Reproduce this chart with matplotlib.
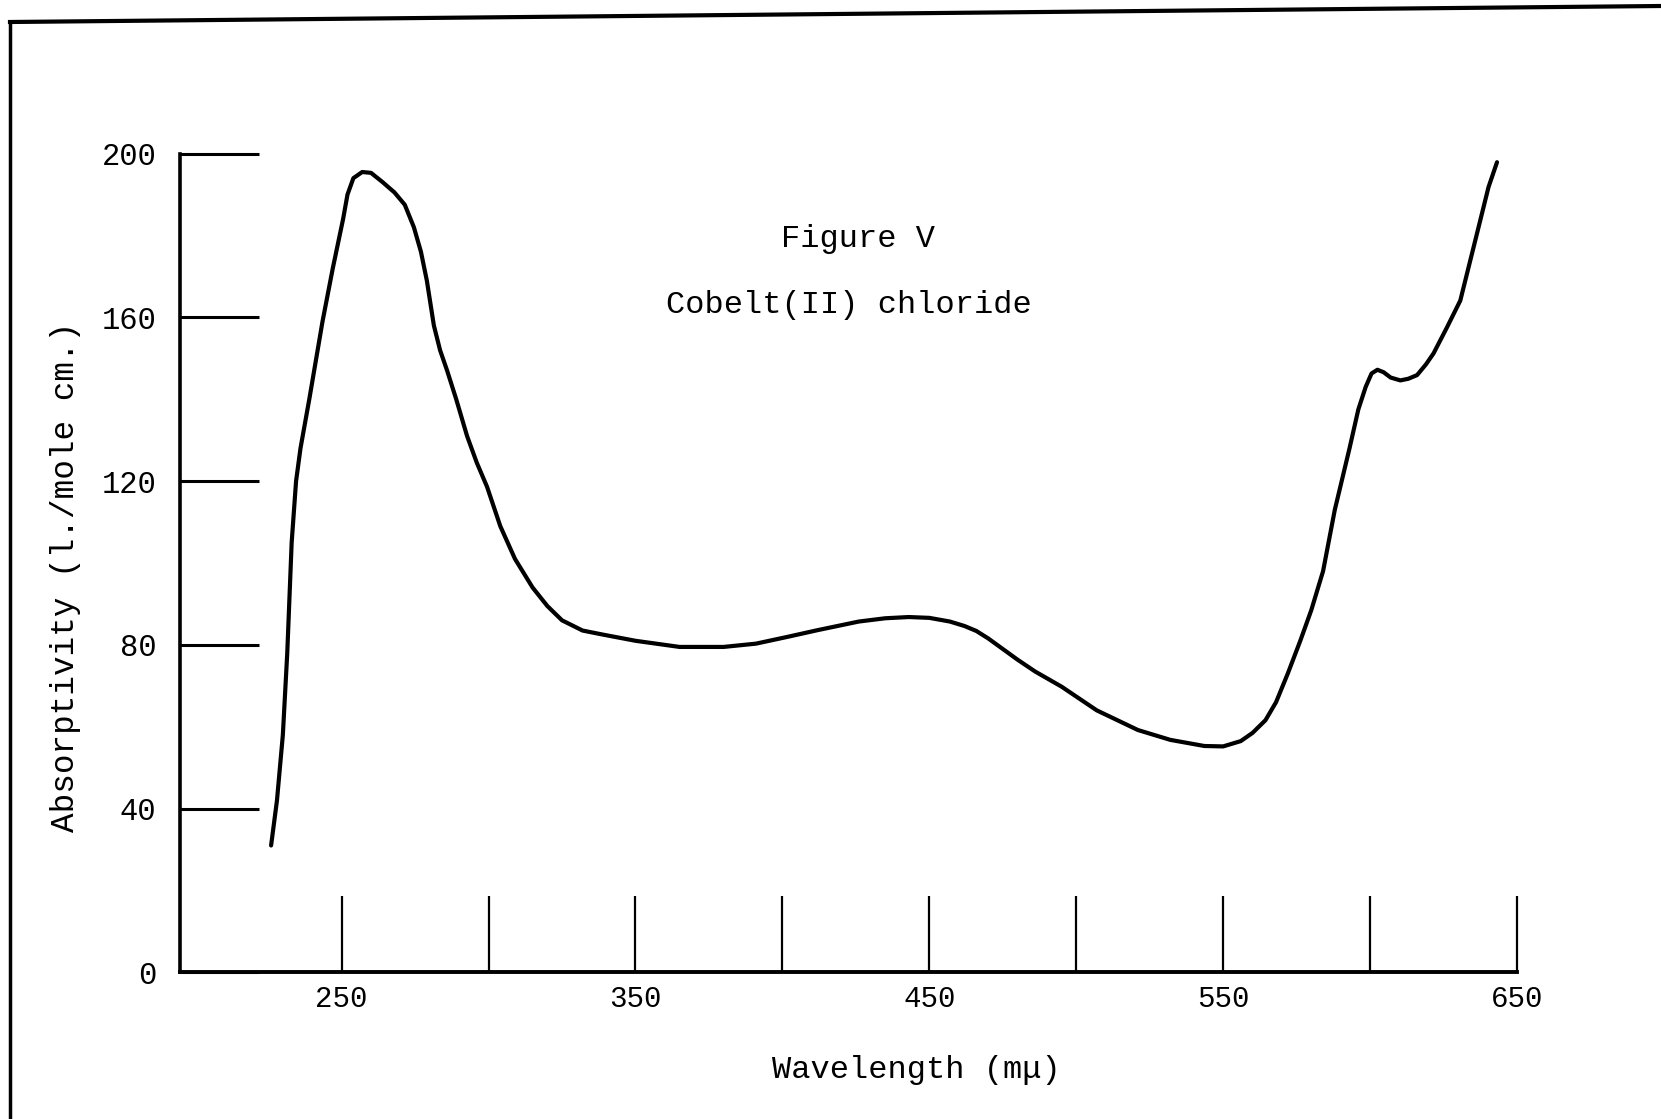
import matplotlib.pyplot as plt
from matplotlib.lines import Line2D

# absorption spectrum
wavelength = [226, 228, 230, 231.5, 233, 234.5, 236, 239, 243.5, 247, 250.5, 252, 254, 257, 260,
              264, 268, 271.5, 274.6, 277, 279, 281.4, 283.5, 285.9, 289, 292.7, 296, 299.5, 304,
              309, 315, 320, 325, 332, 339, 350, 365, 380, 391, 402, 412, 426, 435, 443, 450, 457,
              462, 466, 470, 475, 480, 486, 495, 507, 521, 532, 543.6, 550, 556, 560, 564.4, 568,
              572, 576.3, 580, 584, 588, 593, 596, 598.5, 600.5, 602.5, 604.6, 607, 610.3, 613,
              616, 619, 621.6, 626.2, 630.7, 634.1, 637.5, 640.3, 643.2]
absorptivity = [31, 42, 58, 78, 105, 120, 128, 140, 159, 172, 184, 190, 194, 195.5, 195.3,
                193, 190.5, 187.5, 182, 176, 169, 158, 152, 147, 140, 131, 124.5, 118.6, 109,
                101, 94, 89.5, 86, 83.5, 82.5, 81, 79.5, 79.5, 80.3, 82, 83.6, 85.7, 86.5, 86.8,
                86.6, 85.7, 84.6, 83.4, 81.6, 79, 76.4, 73.5, 69.8, 64, 59.2, 56.8, 55.3, 55.2,
                56.5, 58.5, 61.6, 66, 73, 81.1, 88.5, 98, 113, 128, 137.5, 143, 146.3, 147.2,
                146.6, 145.3, 144.6, 145, 145.9, 148.5, 151.2, 157.6, 164.1, 173.9, 183.7,
                191.8, 197.9]

xticks = [250, 300, 350, 400, 450, 500, 550, 600, 650]
xlabels = ["250", "", "350", "", "450", "", "550", "", "650"]
yticks = [0, 40, 80, 120, 160, 200]

W, H = 1661, 1119
fig = plt.figure(figsize=(W / 100, H / 100), dpi=100)
font = "Liberation Mono"

# page frame (scanned sheet edges)
fig.add_artist(Line2D([10 / W, 10 / W], [0, 1 - 22 / H], color="black", lw=2.5))
fig.add_artist(Line2D([10 / W, 1], [1 - 22 / H, 1 - 6 / H], color="black", lw=3))

x0, x1 = 180, 1517
ytop, ybot = 153.6, 972.4
ax = fig.add_axes([x0 / W, 1 - ybot / H, (x1 - x0) / W, (ybot - ytop) / H])

ax.plot(wavelength, absorptivity, color="black", lw=3, solid_capstyle="round",
        solid_joinstyle="round", clip_on=False)

ax.set_xlim(195, 650)
ax.set_ylim(0, 200)
for s in ["top", "right"]:
    ax.spines[s].set_visible(False)
ax.spines["left"].set_linewidth(2.6)
ax.spines["bottom"].set_linewidth(2.8)

ax.set_xticks(xticks)
ax.set_xticklabels(xlabels, fontsize=21, family=font)
ax.set_yticks(yticks)
ax.set_yticklabels([str(v) for v in yticks], fontsize=22, family=font)
ax.tick_params(axis="x", direction="in", length=55, width=1.6, pad=9)
ax.tick_params(axis="y", direction="in", length=57, width=2.2, pad=17)

fig.text(66 / W, 1 - 577 / H, "Absorptivity (l./mole cm.)", rotation=90,
         ha="center", va="center", fontsize=23.5, family=font)
fig.text(916 / W, 1 - 1070 / H, "Wavelength (mμ)", ha="center", va="center",
         fontsize=23, family=font)
fig.text(858 / W, 1 - 239 / H, "Figure V", ha="center", va="center",
         fontsize=23, family=font)
fig.text(849 / W, 1 - 305 / H, "Cobelt(II) chloride", ha="center", va="center",
         fontsize=23, family=font)

fig.savefig("out.png", dpi=100)
